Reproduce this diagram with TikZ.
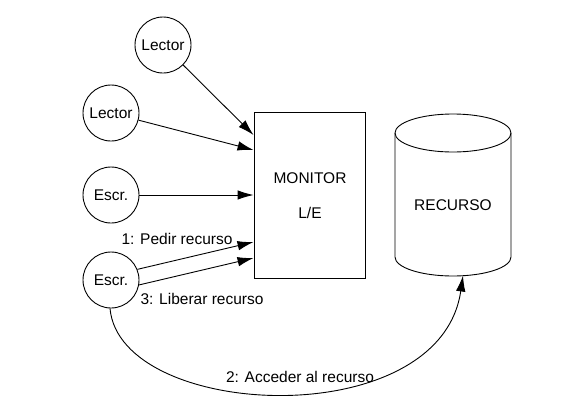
\documentclass[tikz,border=0pt]{standalone}
\usepackage{fontspec}
\setmainfont{Liberation Sans}
\usetikzlibrary{arrows.meta}
\begin{document}
\begin{tikzpicture}[x=1pt,y=-1pt,
  every node/.style={font=\fontsize{15.5}{18}\selectfont},
  proc/.style={draw,circle,line width=0.9pt,minimum size=56pt,inner sep=0pt},
  arr/.style={line width=0.9pt,-{Latex[length=16pt,width=9.5pt]}},
  lbl/.style={inner sep=0pt}]
\useasboundingbox (0,0) rectangle (566,413);
% processes
\node[proc] (l1) at (163,45) {Lector};
\node[proc] (l2) at (111,113) {Lector};
\node[proc] (e1) at (111,195) {Escr.};
\node[proc] (e2) at (111,280) {Escr.};
% monitor
\node[draw,line width=0.9pt,minimum width=111pt,minimum height=166pt,inner sep=0pt] (mon) at (309.5,195) {};
\node[lbl] (mt1) at (310,178) {MONITOR};
\node[lbl] (mt2) at (310,213) {L/E};
% resource cylinder
\draw[line width=0.9pt] (395,133) -- (395,257) arc[start angle=180,end angle=360,x radius=58pt,y radius=19pt] -- (511,133);
\draw[line width=0.9pt] (453,133) ellipse[x radius=58pt,y radius=19pt];
\node[lbl] (res) at (453,205) {RECURSO};
\coordinate (resb) at (463,275.5);
% connectors
\draw[arr] (l1) -- ([yshift=60pt]mon.west);
\draw[arr] (l2) -- ([yshift=45pt]mon.west);
\draw[arr] (e1) -- (mon.west);
\draw[arr] (e2.22) -- ([yshift=-47pt]mon.west);
\draw[arr] (e2.-10) -- ([yshift=-63pt]mon.west);
\draw[arr] (e2.-92) .. controls (120,420) and (440,435) .. (resb);
% labels
\node[lbl] (p1) at (177,239) {1: Pedir recurso};
\node[lbl] (p3) at (202,299) {3: Liberar recurso};
\node[lbl] (p2) at (300,377) {2: Acceder al recurso};
\end{tikzpicture}
\end{document}
